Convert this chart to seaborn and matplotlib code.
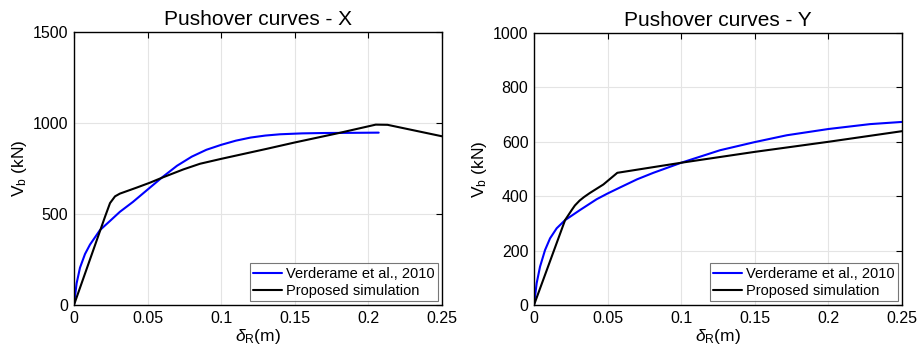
import numpy as np
import pandas as pd
import matplotlib
matplotlib.use("Agg")
import matplotlib.pyplot as plt
import seaborn as sns

# ---- data ----
x_ver_X = [0.0, 0.0018, 0.0041, 0.0075, 0.0109, 0.0177, 0.0245, 0.0312, 0.04, 0.05, 0.06, 0.07, 0.08,
           0.09, 0.1, 0.11, 0.12, 0.13, 0.14, 0.155, 0.17, 0.19, 0.207]
v_ver_X = [0.0, 119, 205, 280, 332, 412, 462, 512, 566, 634, 702, 765, 815,
           853, 880, 903, 920, 931, 938, 943, 945, 946, 947]

x_sim_X = [0.0, 0.0211, 0.0245, 0.0279, 0.0312, 0.0426, 0.0516, 0.06, 0.0743, 0.0856, 0.1, 0.1309,
           0.15, 0.18, 0.205, 0.213, 0.25]
v_sim_X = [0.0, 485, 560, 597, 612, 645, 672, 700, 745, 776, 803, 858,
           893, 945, 991, 990, 927]

x_ver_Y = [0.0, 0.0018, 0.0041, 0.0075, 0.0109, 0.0154, 0.0211, 0.0312, 0.0426, 0.05, 0.0584, 0.07,
           0.0811, 0.1, 0.1264, 0.15, 0.1717, 0.2, 0.2283, 0.25]
v_ver_Y = [0.0, 80, 141, 202, 245, 282, 312, 349, 389, 410, 432, 462,
           486, 523, 569, 599, 624, 647, 665, 673]

x_sim_Y = [0.0, 0.0211, 0.0256, 0.0278, 0.031, 0.034, 0.038, 0.0471, 0.0566, 0.1, 0.15, 0.2, 0.25]
v_sim_Y = [0.0, 312, 349, 366, 384, 397, 412, 443, 486, 523, 563, 600, 639]

labels = ["Verderame et al., 2010", "Proposed simulation"]
titles = ["Pushover curves - X", "Pushover curves - Y"]
x_ticks = [0, 0.05, 0.1, 0.15, 0.2, 0.25]
x_ticklabels = ["0", "0.05", "0.1", "0.15", "0.2", "0.25"]
y_ticks_X = [0, 500, 1000, 1500]
y_ticks_Y = [0, 200, 400, 600, 800, 1000]

sns.set_style("white")
plt.rcParams["font.family"] = ["Liberation Sans", "DejaVu Sans"]
plt.rcParams["mathtext.fontset"] = "custom"
plt.rcParams["mathtext.rm"] = "Liberation Sans"
plt.rcParams["mathtext.it"] = "Liberation Sans:italic"
plt.rcParams["text.color"] = "black"
plt.rcParams["axes.labelcolor"] = "black"
plt.rcParams["xtick.color"] = "black"
plt.rcParams["ytick.color"] = "black"

fig = plt.figure(figsize=(9.21, 3.55), dpi=100)
ax1 = fig.add_axes([0.0803, 0.1408, 0.3996, 0.7691])
ax2 = fig.add_axes([0.5798, 0.1408, 0.3996, 0.7663])

def make_df(x, v, lab):
    return pd.DataFrame({"d": x, "V": v, "series": lab})

panels = [
    (ax1, x_ver_X, v_ver_X, x_sim_X, v_sim_X, titles[0], y_ticks_X, 1500),
    (ax2, x_ver_Y, v_ver_Y, x_sim_Y, v_sim_Y, titles[1], y_ticks_Y, 1000),
]

for ax, xv, vv, xs, vs, title, yt, ymax in panels:
    df = pd.concat([make_df(xv, vv, labels[0]), make_df(xs, vs, labels[1])], ignore_index=True)
    sns.lineplot(data=df, x="d", y="V", hue="series", palette={labels[0]: "#0000ff", labels[1]: "#000000"},
                 estimator=None, sort=False, lw=1.5, ax=ax)
    for ln in ax.get_lines():
        ln.set_solid_joinstyle("round")
    ax.set_xlim(0, 0.25)
    ax.set_ylim(0, ymax)
    ax.set_xticks(x_ticks)
    ax.set_xticklabels(x_ticklabels)
    ax.set_yticks(yt)
    ax.set_yticklabels([str(t) for t in yt])
    ax.grid(True, color="#e4e4e4", lw=0.8)
    ax.set_axisbelow(True)
    for s in ax.spines.values():
        s.set_color("black")
        s.set_linewidth(1.0)
    ax.tick_params(direction="in", length=4, width=0.8, top=True, right=True,
                   labelsize=11.5, colors="black", pad=4)
    ax.set_title(title, fontsize=15, pad=5, color="black")
    ax.set_xlabel(r"$\delta_\mathrm{R}$(m)", fontsize=12.5, labelpad=1)
    ax.set_ylabel(r"V$_\mathrm{b}$ (kN)", fontsize=12.5, labelpad=3)
    leg = ax.legend(loc="lower right", fontsize=10.5, frameon=True, fancybox=False,
                    handlelength=2.0, handletextpad=0.25, borderpad=0.25,
                    labelspacing=0.2, borderaxespad=0.25)
    leg.get_frame().set_edgecolor("#555555")
    leg.get_frame().set_linewidth(0.8)
    leg.set_title(None)

fig.savefig("out.png", dpi=100)
